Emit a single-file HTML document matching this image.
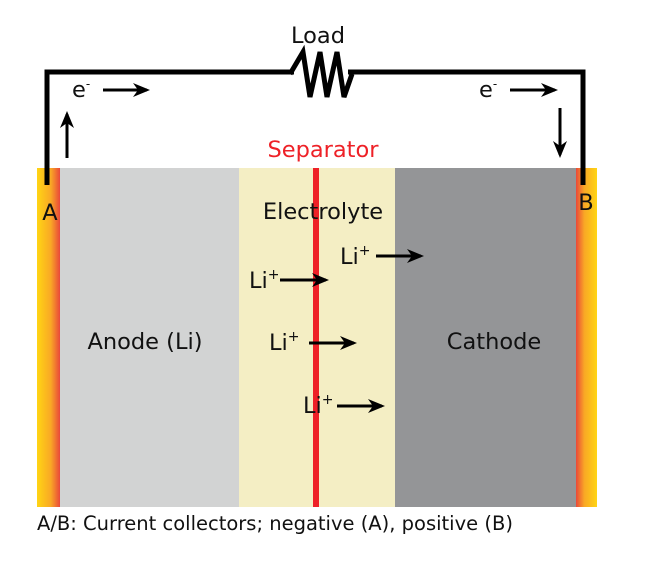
<!DOCTYPE html>
<html><head><style>body{margin:0;background:#fff}</style></head><body>
<svg width="650" height="560" xmlns="http://www.w3.org/2000/svg" font-family="DejaVu Sans, sans-serif">
<defs>
<linearGradient id="gl" x1="0" x2="1"><stop offset="0" stop-color="#ffd514"/><stop offset="0.6" stop-color="#f9a825"/><stop offset="1" stop-color="#e9483a"/></linearGradient>
<linearGradient id="gr" x1="1" x2="0"><stop offset="0" stop-color="#ffd514"/><stop offset="0.6" stop-color="#f9a825"/><stop offset="1" stop-color="#e9483a"/></linearGradient>
<marker id="ah" markerWidth="18" markerHeight="14" refX="14" refY="7" orient="auto" markerUnits="userSpaceOnUse"><path d="M0,0 L17,7 L0,14 L5,7 Z" fill="#000"/></marker>
</defs>
<rect x="37" y="168" width="23" height="339" fill="url(#gl)"/>
<rect x="60" y="168" width="179" height="339" fill="#d2d3d3"/>
<rect x="239" y="168" width="156" height="339" fill="#f4eec4"/>
<rect x="395" y="168" width="181" height="339" fill="#949597"/>
<rect x="576" y="168" width="21" height="339" fill="url(#gr)"/>
<rect x="313" y="168" width="6" height="339" fill="#ee2127"/>
<path d="M47,185 V72 H294 M348,72 H583 V185" fill="none" stroke="#000" stroke-width="5"/>
<path d="M290,74 L303,52 L310,97 L320,52 L327,97 L337,52 L344,97 L352,74" fill="none" stroke="#000" stroke-width="5" stroke-linejoin="miter"/>
<g stroke="#000" stroke-width="3" marker-end="url(#ah)">
<line x1="103" y1="90" x2="147" y2="90"/>
<line x1="510" y1="90" x2="555" y2="90"/>
<line x1="67" y1="158" x2="67" y2="114"/>
<line x1="560" y1="108" x2="560" y2="155"/>
<line x1="376" y1="256" x2="421" y2="256"/>
<line x1="280" y1="280" x2="326" y2="280"/>
<line x1="309" y1="343" x2="354" y2="343"/>
<line x1="337" y1="406" x2="382" y2="406"/>
</g>
<g font-size="22.5" fill="#111">
<text x="318" y="43" text-anchor="middle">Load</text>
<text x="72" y="97">e<tspan font-size="12" dy="-9">-</tspan></text>
<text x="479" y="97">e<tspan font-size="12" dy="-9">-</tspan></text>
<text x="323" y="157" text-anchor="middle" fill="#ee2127">Separator</text>
<text x="323" y="219" text-anchor="middle">Electrolyte</text>
<text x="50" y="220" text-anchor="middle">A</text>
<text x="586" y="210" text-anchor="middle">B</text>
<text x="145" y="349" text-anchor="middle">Anode (Li)</text>
<text x="494" y="349" text-anchor="middle">Cathode</text>
<text x="340" y="264">Li<tspan font-size="14" dy="-9">+</tspan></text>
<text x="249" y="288">Li<tspan font-size="14" dy="-9">+</tspan></text>
<text x="269" y="350">Li<tspan font-size="14" dy="-9">+</tspan></text>
<text x="303" y="413">Li<tspan font-size="14" dy="-9">+</tspan></text>
<text x="37" y="530" font-size="19.5">A/B: Current collectors; negative (A), positive (B)</text>
</g>
</svg>
</body></html>
